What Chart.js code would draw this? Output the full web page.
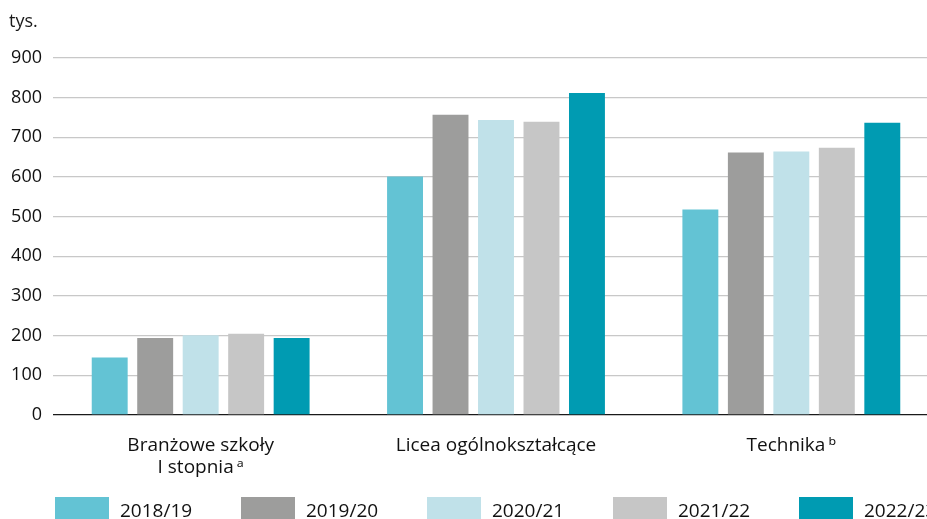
<!DOCTYPE html>
<html>
<head>
<meta charset="utf-8">
<script src="https://cdn.jsdelivr.net/npm/chart.js@4"></script>
<style>
  html, body { margin: 0; padding: 0; background: #fff; overflow: hidden; }
  #wrap { width: 940px; height: 519px; position: relative; }
</style>
</head>
<body>
<div id="wrap"><canvas id="chart"></canvas></div>
<script>
// categories (school types) and school years
var categories = [['Branżowe szkoły', 'I stopnia\u2009ᵃ'], 'Licea ogólnokształcące', 'Technika\u2009ᵇ'];
var years = ['2018/19', '2019/20', '2020/21', '2021/22', '2022/23'];

// pupils, thousands
var y2018 = [145, 601, 518];
var y2019 = [194, 757, 662];
var y2020 = [201, 744, 664];
var y2021 = [205, 739, 674];
var y2022 = [194, 812, 737];

var yTicks = [0, 100, 200, 300, 400, 500, 600, 700, 800, 900];

var colors = ['#63c3d4', '#9d9d9c', '#c0e1e9', '#c6c6c6', '#009bb2'];
var series = [y2018, y2019, y2020, y2021, y2022];

var mainFont = "'Open Sans', 'Noto Sans', sans-serif";

var datasets = [];
for (let i = 0; i < years.length; i++) {
  datasets.push({
    label: years[i],
    data: series[i],
    backgroundColor: colors[i],
    barPercentage: 0.79,
    categoryPercentage: 0.77
  });
}

// unit label and bottom legend
var extras = {
  id: 'extras',
  afterDraw: function(chart) {
    var ctx = chart.ctx;
    ctx.save();
    ctx.fillStyle = '#1a1a1a';
    ctx.font = '18px ' + mainFont;
    ctx.textBaseline = 'middle';
    ctx.textAlign = 'left';
    ctx.fillText('tys.', 9, 22);

    var x0 = 55, step = 186, top = 497;
    ctx.font = '19px ' + mainFont;
    ctx.textBaseline = 'alphabetic';
    chart.data.datasets.forEach(function(ds, i) {
      var x = x0 + i * step;
      ctx.fillStyle = ds.backgroundColor;
      ctx.fillRect(x, top, 54, 22);
      ctx.fillStyle = '#111';
      ctx.fillText(ds.label, x + 65, 517);
    });
    ctx.restore();
  }
};

new Chart(document.getElementById('chart'), {
  type: 'bar',
  data: { labels: categories, datasets: datasets },
  options: {
    responsive: true,
    maintainAspectRatio: false,
    animation: false,
    layout: { padding: { top: 58, right: 1, left: 0, bottom: 0 } },
    plugins: {
      legend: { display: false },
      tooltip: { enabled: false }
    },
    scales: {
      x: {
        grid: { display: false },
        border: { display: false },
        ticks: {
          color: '#111',
          font: { family: mainFont, size: 19, lineHeight: 1.16 },
          padding: 12,
          maxRotation: 0
        },
        afterFit: function(scale) { scale.height = 104; }
      },
      y: {
        min: 0,
        max: 900,
        afterBuildTicks: function(scale) {
          scale.ticks = yTicks.map(function(v) { return { value: v }; });
        },
        border: { display: false },
        grid: {
          drawTicks: false,
          lineWidth: 1.3,
          color: function(c) { return c.tick && c.tick.value === 0 ? '#1a1a1a' : '#c8c8c8'; }
        },
        ticks: {
          color: '#111',
          font: { family: mainFont, size: 18 },
          padding: 11
        },
        afterFit: function(scale) { scale.width = 53; }
      }
    }
  },
  plugins: [extras]
});
</script>
</body>
</html>
